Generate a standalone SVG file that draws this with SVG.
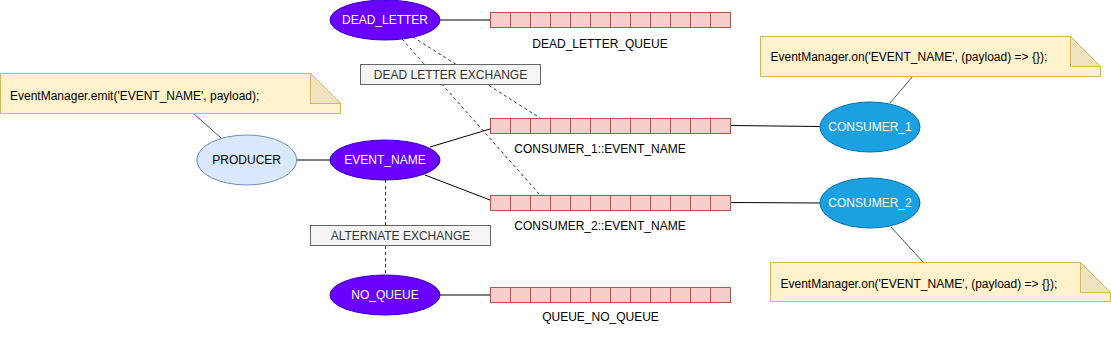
<svg xmlns="http://www.w3.org/2000/svg" width="1111" height="340" viewBox="0 0 1111 340">
<style>
text{font-family:"Liberation Sans",Arial,sans-serif;font-size:12px}
.c{text-anchor:middle}
.w{fill:#ffffff}
.k{fill:#000000}
.g{fill:#333333}
.ex{fill:#6a00ff;stroke:#3700cc;stroke-width:1}
.cons{fill:#1ba1e2;stroke:#006eaf;stroke-width:1}
.prod{fill:#dae8fc;stroke:#6c8ebf;stroke-width:1}
.note{fill:#fff2cc;stroke:#d6b656;stroke-width:1}
.fold{fill:#efe3c0;stroke:#d6b656;stroke-width:1}
.q{fill:#f8cecc;stroke:#b85450;stroke-width:1}
.qc{stroke:#b85450;stroke-width:1;fill:none}
.lbl{fill:#f5f5f5;stroke:#666666;stroke-width:1}
.ln{stroke:#000000;stroke-width:1;fill:none}
.thin{stroke:#000000;stroke-width:0.7;fill:none}
.dash{stroke:#000000;stroke-width:0.8;fill:none;stroke-dasharray:3 3}
</style>
<defs>
<g id="cells">
<path class="qc" d="M20,0V15M40,0V15M60,0V15M80,0V15M100,0V15M120,0V15M140,0V15M160,0V15M180,0V15M200,0V15M220,0V15"/>
</g>
</defs>
<g id="connectors">
<line class="thin" x1="193" y1="113" x2="221" y2="138"/>
<line class="ln" x1="297" y1="160" x2="330" y2="160"/>
<line class="ln" x1="440" y1="20" x2="490" y2="20"/>
<line class="ln" x1="430" y1="147" x2="490" y2="129"/>
<line class="ln" x1="425" y1="175" x2="490" y2="200"/>
<line class="ln" x1="440" y1="295" x2="490" y2="295"/>
<line class="ln" x1="730" y1="125.5" x2="820" y2="126.5"/>
<line class="ln" x1="730" y1="202.5" x2="820" y2="203"/>
<line class="thin" x1="913" y1="76" x2="890" y2="103"/>
<line class="thin" x1="891" y1="227" x2="923" y2="262"/>
<line class="dash" x1="413" y1="37" x2="540" y2="118"/>
<line class="dash" x1="402" y1="39" x2="540" y2="195"/>
<line class="dash" x1="385.5" y1="180" x2="385.5" y2="275"/>
</g>
<g id="dlx-label">
<rect class="lbl" x="360.5" y="64.5" width="180" height="20"/>
<text class="c g" x="450.5" y="78.8">DEAD LETTER EXCHANGE</text>
</g>
<g id="ae-label">
<rect class="lbl" x="310.5" y="225.5" width="180" height="20"/>
<text class="c g" x="400.5" y="239.8">ALTERNATE EXCHANGE</text>
</g>
<g id="note-producer">
<path class="note" d="M0.5,73.5H310.5L340.5,103.5V113.5H0.5Z"/>
<path class="fold" d="M310.5,73.5V103.5H340.5Z"/>
<text class="k" x="10" y="99.5">EventManager.emit('EVENT_NAME', payload);</text>
</g>
<g id="producer">
<ellipse class="prod" cx="246.7" cy="160" rx="50" ry="25"/>
<text class="c k" x="246.7" y="164.3">PRODUCER</text>
</g>
<g id="dead-letter">
<ellipse class="ex" cx="385" cy="20" rx="55" ry="20"/>
<text class="c w" x="385" y="24.3">DEAD_LETTER</text>
</g>
<g id="event-name">
<ellipse class="ex" cx="385" cy="160" rx="55" ry="20"/>
<text class="c w" x="385" y="164.3">EVENT_NAME</text>
</g>
<g id="no-queue">
<ellipse class="ex" cx="385" cy="295" rx="55" ry="20"/>
<text class="c w" x="385" y="299.3">NO_QUEUE</text>
</g>
<g id="dead-letter-queue">
<g transform="translate(490.5,12.5)"><rect class="q" x="0" y="0" width="240" height="15"/><use href="#cells"/></g>
<text class="c k" x="600" y="47.5">DEAD_LETTER_QUEUE</text>
</g>
<g id="consumer1-queue">
<g transform="translate(490.5,118.5)"><rect class="q" x="0" y="0" width="240" height="15"/><use href="#cells"/></g>
<text class="c k" x="600" y="152.5">CONSUMER_1::EVENT_NAME</text>
</g>
<g id="consumer2-queue">
<g transform="translate(490.5,195.5)"><rect class="q" x="0" y="0" width="240" height="15"/><use href="#cells"/></g>
<text class="c k" x="600" y="229.5">CONSUMER_2::EVENT_NAME</text>
</g>
<g id="no-queue-queue">
<g transform="translate(490.5,287.5)"><rect class="q" x="0" y="0" width="240" height="15"/><use href="#cells"/></g>
<text class="c k" x="600.5" y="321">QUEUE_NO_QUEUE</text>
</g>
<g id="consumer1">
<ellipse class="cons" cx="870" cy="127" rx="50" ry="25"/>
<text class="c w" x="870" y="131.3">CONSUMER_1</text>
</g>
<g id="consumer2">
<ellipse class="cons" cx="870" cy="203" rx="50" ry="25"/>
<text class="c w" x="870" y="207.3">CONSUMER_2</text>
</g>
<g id="note-consumer1">
<path class="note" d="M760.5,36.5H1070.5L1100.5,66.5V76.5H760.5Z"/>
<path class="fold" d="M1070.5,36.5V66.5H1100.5Z"/>
<text class="k" x="770.5" y="61">EventManager.on('EVENT_NAME', (payload) =&gt; {});</text>
</g>
<g id="note-consumer2">
<path class="note" d="M770.5,262.5H1080.5L1110.5,292.5V301.5H770.5Z"/>
<path class="fold" d="M1080.5,262.5V292.5H1110.5Z"/>
<text class="k" x="780.5" y="287.5">EventManager.on('EVENT_NAME', (payload) =&gt; {});</text>
</g>
</svg>
